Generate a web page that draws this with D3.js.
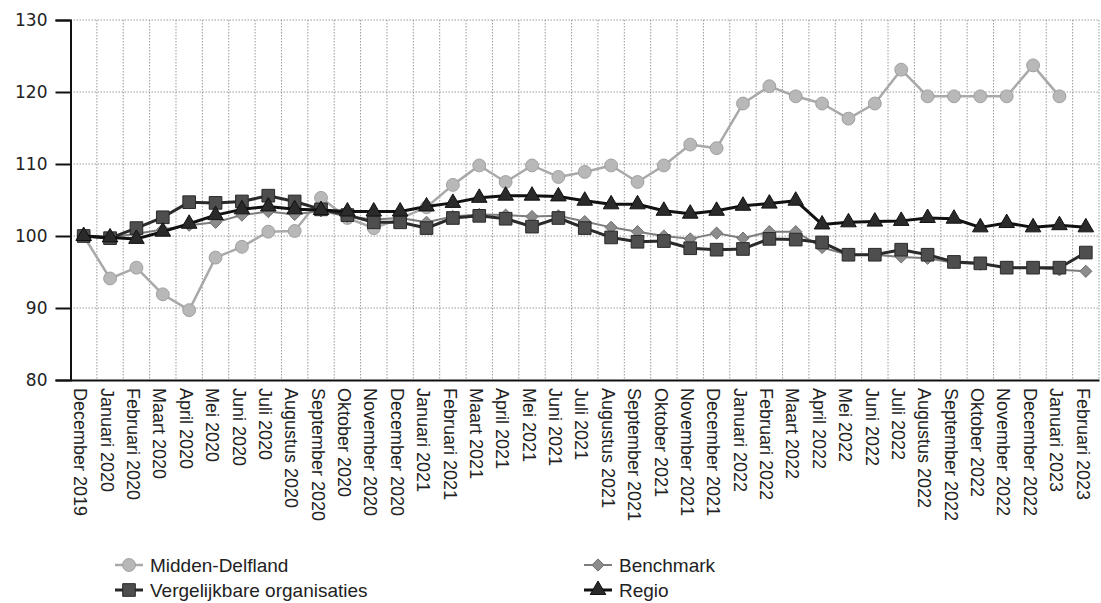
<!DOCTYPE html>
<html>
<head>
<meta charset="utf-8">
<script src="https://cdn.jsdelivr.net/npm/d3@7"></script>
<style>
  html, body { margin: 0; padding: 0; background: #fff; }
  svg { display: block; }
</style>
</head>
<body>
<svg id="chart" width="1101" height="603"></svg>
<script>
const months = ["December 2019","Januari 2020","Februari 2020","Maart 2020","April 2020","Mei 2020","Juni 2020","Juli 2020","Augustus 2020","September 2020","Oktober 2020","November 2020","December 2020","Januari 2021","Februari 2021","Maart 2021","April 2021","Mei 2021","Juni 2021","Juli 2021","Augustus 2021","September 2021","Oktober 2021","November 2021","December 2021","Januari 2022","Februari 2022","Maart 2022","April 2022","Mei 2022","Juni 2022","Juli 2022","Augustus 2022","September 2022","Oktober 2022","November 2022","December 2022","Januari 2023","Februari 2023"];

const middenDelfland = [100, 94.1, 95.6, 91.9, 89.7, 97.0, 98.5, 100.6, 100.7, 105.3, 102.5, 101.1, 102.4, 104.0, 107.1, 109.8, 107.5, 109.8, 108.2, 108.9, 109.8, 107.5, 109.8, 112.7, 112.2, 118.4, 120.8, 119.4, 118.4, 116.3, 118.4, 123.1, 119.4, 119.4, 119.4, 119.4, 123.7, 119.4, null];
const vergelijkbaar = [100, 99.7, 101.1, 102.6, 104.7, 104.6, 104.8, 105.6, 104.8, 103.7, 102.9, 101.9, 101.9, 101.1, 102.5, 102.8, 102.4, 101.3, 102.5, 101.1, 99.8, 99.2, 99.3, 98.3, 98.1, 98.2, 99.6, 99.5, 99.1, 97.4, 97.4, 98.1, 97.4, 96.4, 96.2, 95.6, 95.6, 95.6, 97.7];
const benchmark = [100, 99.8, 100.3, 100.9, 101.5, 101.9, 102.9, 103.4, 103.0, 103.5, 102.7, 102.3, 102.5, 101.9, 102.7, 103.0, 102.9, 102.7, 102.8, 102.0, 101.2, 100.6, 100.0, 99.6, 100.4, 99.7, 100.6, 100.6, 98.4, 97.4, 97.4, 97.1, 96.9, 96.3, 96.1, 95.6, 95.6, 95.3, 95.1];
const regio = [100, 99.8, 99.6, 100.6, 101.7, 102.9, 103.7, 104.1, 103.7, 103.6, 103.4, 103.4, 103.4, 104.1, 104.6, 105.3, 105.6, 105.6, 105.5, 104.9, 104.4, 104.4, 103.5, 103.1, 103.5, 104.2, 104.5, 104.9, 101.6, 101.9, 102.0, 102.1, 102.5, 102.4, 101.2, 101.8, 101.2, 101.5, 101.2];
const yTicks = [80, 90, 100, 110, 120, 130];

const seriesNames = ["Midden-Delfland", "Vergelijkbare organisaties", "Benchmark", "Regio"];

const svg = d3.select("#chart");
const pLeft = 70.5, pRight = 1099, pTop = 20, pBottom = 380;

const x = d3.scaleBand().domain(months).range([pLeft, pRight]).paddingInner(0).paddingOuter(0);
const y = d3.scaleLinear().domain([80, 130]).range([pBottom, pTop]);
const cx = m => x(m) + x.bandwidth() / 2;

// grid
const grid = svg.append("g");
grid.selectAll("line.h").data(yTicks.filter(t => t > 80)).enter().append("line")
  .attr("x1", pLeft).attr("x2", pRight)
  .attr("y1", d => y(d)).attr("y2", d => y(d))
  .attr("stroke", "#9a9a9a").attr("stroke-width", 1).attr("stroke-dasharray", "1.5,1.5");
const vBounds = months.slice(1).map(m => x(m)).concat([pRight]);
grid.selectAll("line.v").data(vBounds).enter().append("line")
  .attr("x1", d => d).attr("x2", d => d)
  .attr("y1", pTop).attr("y2", pBottom)
  .attr("stroke", "#9a9a9a").attr("stroke-width", 1).attr("stroke-dasharray", "1.5,1.5");

// y axis
const yAxis = d3.axisLeft(y).tickValues(yTicks).tickSize(15).tickPadding(8).tickFormat(d3.format("d"));
const ya = svg.append("g").attr("transform", `translate(${pLeft},0)`).call(yAxis);
ya.select(".domain").attr("stroke", "#111").attr("stroke-width", 2);
ya.selectAll(".tick line").attr("stroke", "#111").attr("stroke-width", 2);
ya.selectAll(".tick text").attr("font-family", "DejaVu Sans").attr("font-size", 17).attr("fill", "#222");

// x axis
const xAxis = d3.axisBottom(x).tickSize(0).tickSizeOuter(0);
const xa = svg.append("g").attr("transform", `translate(0,${pBottom})`).call(xAxis);
xa.select(".domain").attr("stroke", "#111").attr("stroke-width", 2);
xa.selectAll(".tick text")
  .attr("font-family", "Liberation Sans, Arial, sans-serif").attr("font-size", 18).attr("fill", "#222")
  .attr("text-anchor", "start")
  .attr("transform", "translate(-3,8) rotate(90)")
  .attr("x", 0).attr("y", 0).attr("dy", "0.35em");

// symbols
const sym = {
  circle: d3.symbol().type(d3.symbolCircle).size(130),
  square: d3.symbol().type(d3.symbolSquare).size(160),
  diamond: d3.symbol().type(d3.symbolDiamond2).size(95),
  triangle: d3.symbol().type(d3.symbolTriangle).size(105)
};

const styles = [
  { name: seriesNames[0], data: middenDelfland, line: "#a9a9a9", lw: 2.5, fill: "#b8b8b8", stroke: "#a0a0a0", sym: sym.circle },
  { name: seriesNames[2], data: benchmark, line: "#7d7d7d", lw: 2, fill: "#8c8c8c", stroke: "#6e6e6e", sym: sym.diamond },
  { name: seriesNames[1], data: vergelijkbaar, line: "#2a2a2a", lw: 3, fill: "#4e4e4e", stroke: "#2a2a2a", sym: sym.square },
  { name: seriesNames[3], data: regio, line: "#111", lw: 3, fill: "#2a2a2a", stroke: "#111", sym: sym.triangle }
];
const byName = n => styles.find(s => s.name === n);

const line = d3.line().defined(d => d.v != null).x(d => cx(d.m)).y(d => y(d.v));

styles.forEach(s => {
  const pts = months.map((m, i) => ({ m, v: s.data[i] }));
  const g = svg.append("g");
  g.append("path").datum(pts).attr("d", line)
    .attr("fill", "none").attr("stroke", s.line).attr("stroke-width", s.lw).attr("stroke-linejoin", "round");
  g.selectAll("path.m").data(pts.filter(p => p.v != null)).enter().append("path")
    .attr("d", s.sym)
    .attr("transform", d => `translate(${cx(d.m)},${y(d.v)})`)
    .attr("fill", s.fill).attr("stroke", s.stroke).attr("stroke-width", 1);
});

// legend
const legendItems = [
  { s: byName("Midden-Delfland"), x: 129, y: 565 },
  { s: byName("Vergelijkbare organisaties"), x: 129, y: 590 },
  { s: byName("Benchmark"), x: 598, y: 565 },
  { s: byName("Regio"), x: 598, y: 590 }
];
const lg = svg.append("g");
legendItems.forEach(it => {
  const g = lg.append("g").attr("transform", `translate(${it.x},${it.y})`);
  g.append("line").attr("x1", -14).attr("x2", 14).attr("y1", 0).attr("y2", 0)
    .attr("stroke", it.s.line).attr("stroke-width", it.s.lw);
  g.append("path").attr("d", it.s.sym).attr("fill", it.s.fill).attr("stroke", it.s.stroke).attr("stroke-width", 1);
  g.append("text").attr("x", 21).attr("y", 0).attr("dy", "0.35em")
    .attr("font-family", "Liberation Sans, Arial, sans-serif").attr("font-size", 19).attr("fill", "#222")
    .text(it.s.name);
});
</script>
</body>
</html>
